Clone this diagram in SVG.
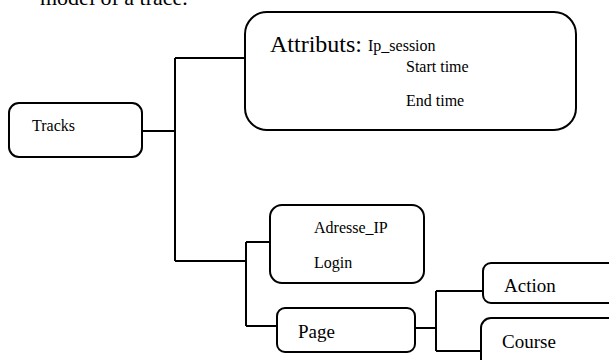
<svg xmlns="http://www.w3.org/2000/svg" width="609" height="360" viewBox="0 0 609 360">
<style>
.box{fill:#fff;stroke:#000;stroke-width:2}
.con{fill:none;stroke:#000;stroke-width:2}
text{font-family:"Liberation Serif","Times New Roman",serif;fill:#000}
.s{font-size:16px}
.m{font-size:19px}
</style>
<rect width="609" height="360" fill="#fff"/>
<text x="40" y="5" style="font-size:22px">model of a trace.</text>
<g id="connectors">
<path class="con" d="M142,131 H175 M175,58 V261 M175,58 H245 M175,261 H246 M246,242 V326 M246,242 H270 M246,326 H277 M415,328 H436 M436,291 V351 M436,291 H483 M436,351 H481"/>
</g>
<g id="tracks">
<rect class="box" x="9" y="103" width="133" height="54" rx="10"/>
<text class="s" x="32" y="131">Tracks</text>
</g>
<g id="attributs">
<rect class="box" x="245" y="12" width="331" height="118" rx="22"/>
<text x="270" y="52" style="font-size:24px">Attributs:</text>
<text class="s" x="368" y="51">Ip_session</text>
<text class="s" x="406" y="72">Start time</text>
<text class="s" x="406" y="106">End time</text>
</g>
<g id="adresse">
<rect class="box" x="270" y="205" width="154" height="78" rx="12"/>
<text class="s" x="314" y="233">Adresse_IP</text>
<text class="s" x="314" y="268">Login</text>
</g>
<g id="page">
<rect class="box" x="277" y="308" width="138" height="44" rx="8"/>
<text class="m" x="298" y="338">Page</text>
</g>
<g id="action">
<rect class="box" x="483" y="263" width="140" height="40" rx="8"/>
<text class="m" x="504" y="292">Action</text>
</g>
<g id="course">
<rect class="box" x="481" y="318" width="150" height="60" rx="10"/>
<text class="m" x="502" y="348">Course</text>
</g>
</svg>
